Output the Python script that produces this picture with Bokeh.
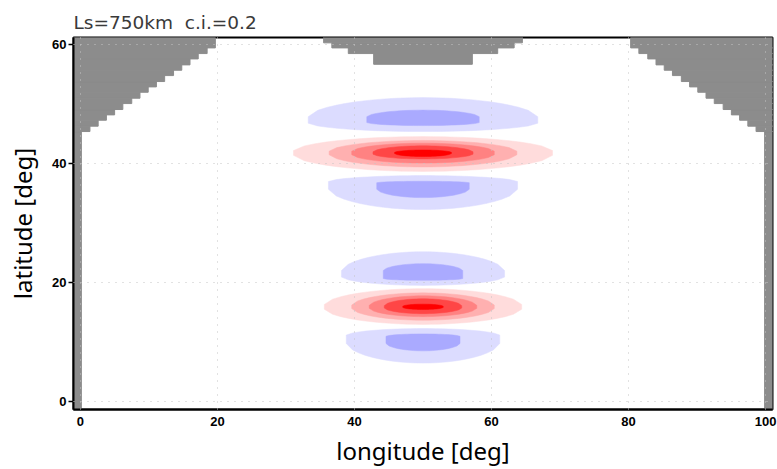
import numpy as np
from bokeh.plotting import figure
from bokeh.models import Range1d, FixedTicker
from bokeh.embed import file_html
from bokeh.resources import INLINE

# ---------------- axes ----------------
x_ticks = [0, 20, 40, 60, 80, 100]
y_ticks = [0, 20, 40, 60]
x_lim = (-1.0, 101.0)
y_lim = (-1.3, 61.2)
title_text = "Ls=750km\u00a0\u00a0c.i.=0.2"

# ---------------- land / outside-domain mask (gray staircase) ----------------
# west staircase rows: lat bottom, lat top, eastern edge of gray (deg lon)
west_row_bottom = [-1.3, 45.4, 46.3, 47.3, 48.2, 49.1, 50.1, 51.0, 52.0, 52.9,
                   53.8, 54.8, 55.7, 56.6, 57.6, 58.5, 59.45]
west_row_top = [45.4, 46.3, 47.3, 48.2, 49.1, 50.1, 51.0, 52.0, 52.9, 53.8,
                54.8, 55.7, 56.6, 57.6, 58.5, 59.45, 61.2]
west_row_edge = [0.15, 1.4, 2.6, 3.8, 5.0, 6.2, 7.5, 8.7, 9.9, 11.1,
                 12.3, 13.6, 14.8, 16.0, 17.2, 18.5, 19.7]
# east staircase rows: western edge of gray (deg lon)
east_row_edge = [99.85, 98.6, 97.4, 96.2, 95.0, 93.8, 92.5, 91.3, 90.1, 88.9,
                 87.7, 86.4, 85.2, 84.0, 82.8, 81.5, 80.3]
# northern central block
center_row_bottom = [60.3, 59.45, 58.5, 56.7]
center_row_top = [61.2, 60.3, 59.45, 58.5]
center_row_west = [35.5, 36.7, 39.1, 42.8]
center_row_east = [64.5, 63.3, 60.9, 57.2]

# ---------------- shaded contour bands (c.i. = 0.2) ----------------
band_level = [-0.2, -0.4,
              0.2, 0.4, 0.6, 0.8, 1.0,
              -0.2, -0.4,
              -0.2, -0.4,
              0.2, 0.4, 0.6, 0.8, 1.0,
              -0.2, -0.4]
band_lon = [50.0] * 18
band_half_width = [16.75, 8.2,
                   18.9, 13.7, 10.4, 7.3, 4.15,
                   13.8, 6.75,
                   11.9, 5.8,
                   14.4, 10.4, 7.85, 5.65, 2.95,
                   11.2, 5.4]
band_top = [51.1, 49.0,
            44.55, 43.9, 43.45, 43.0, 42.3,
            38.0, 37.05,
            25.2, 23.2,
            19.0, 18.3, 17.8, 17.3, 16.4,
            12.3, 11.4]
band_tip_top = [47.9, 47.9,
                42.2, 42.1, 42.1, 42.0, 41.9,
                37.0, 36.8,
                22.05, 22.05,
                16.35, 16.25, 16.2, 16.15, 16.05,
                11.2, 11.0]
band_tip_bottom = [46.8, 46.9,
                   41.4, 41.5, 41.5, 41.6, 41.7,
                   35.7, 35.7,
                   20.95, 20.7,
                   15.55, 15.65, 15.7, 15.75, 15.85,
                   9.8, 9.8]
band_bottom = [45.4, 46.4,
               38.7, 39.45, 40.1, 40.8, 41.2,
               32.3, 34.3,
               19.55, 20.4,
               13.0, 13.7, 14.3, 14.8, 15.5,
               6.5, 8.55]

level_colors = {-0.4: "#aaaaff", -0.2: "#dcdcff",
                0.2: "#ffdcdc", 0.4: "#ffb0b0", 0.6: "#ff8282",
                0.8: "#ff4646", 1.0: "#ff0000"}

mask_color = "#8c8c8c"


def lens(xc, hw, top, tt, tb, bottom, n=25, q=0.6):
    u = np.linspace(-1.0, 1.0, n)
    w = (1.0 - u ** 2) ** q
    xs_top = xc + u * hw
    ys_top = tt + (top - tt) * w
    xs_bot = (xc + u * hw)[::-1]
    ys_bot = (tb - (tb - bottom) * w)[::-1]
    return list(np.concatenate([xs_top, xs_bot])), list(np.concatenate([ys_top, ys_bot]))


p = figure(width=777, height=469, output_backend="svg", toolbar_location=None,
           x_range=Range1d(*x_lim), y_range=Range1d(*y_lim),
           min_border_left=73, min_border_right=5, min_border_top=37,
           min_border_bottom=57)
p.background_fill_color = "white"
p.border_fill_color = "white"

# contour bands
xs_all, ys_all, cols = [], [], []
for i in range(len(band_level)):
    xs, ys = lens(band_lon[i], band_half_width[i], band_top[i], band_tip_top[i],
                  band_tip_bottom[i], band_bottom[i])
    xs_all.append(xs)
    ys_all.append(ys)
    cols.append(level_colors[band_level[i]])
p.patches(xs_all, ys_all, fill_color=cols, line_color=cols, line_width=0.5)

# gray mask
p.quad(left=[x_lim[0] - 1] * len(west_row_edge), right=west_row_edge,
       bottom=west_row_bottom, top=west_row_top,
       fill_color=mask_color, line_color=mask_color, line_width=1)
p.quad(left=east_row_edge, right=[x_lim[1] + 1] * len(east_row_edge),
       bottom=west_row_bottom, top=west_row_top,
       fill_color=mask_color, line_color=mask_color, line_width=1)
p.quad(left=center_row_west, right=center_row_east,
       bottom=center_row_bottom,
       top=[t + 1 if t == max(center_row_top) else t for t in center_row_top],
       fill_color=mask_color, line_color=mask_color, line_width=1)

# grid
for g in (p.xgrid, p.ygrid):
    g.level = "overlay"
    g.grid_line_color = "#c4c4c4"
    g.grid_line_dash = "1 6"
    g.grid_line_width = 1
p.xgrid.ticker = FixedTicker(ticks=x_ticks)
p.ygrid.ticker = FixedTicker(ticks=y_ticks)

# axes
p.xaxis.ticker = FixedTicker(ticks=x_ticks)
p.yaxis.ticker = FixedTicker(ticks=y_ticks)
p.xaxis.axis_label = "longitude [deg]"
p.yaxis.axis_label = "latitude [deg]"
for ax in (p.xaxis[0], p.yaxis[0]):
    ax.axis_line_width = 2
    ax.axis_line_color = "black"
    ax.minor_tick_line_color = None
    ax.major_tick_line_color = "black"
    ax.major_tick_line_width = 1.5
    ax.major_label_text_font = "Liberation Sans"
    ax.major_label_text_font_style = "bold"
    ax.major_label_text_font_size = "13px"
    ax.major_label_text_color = "black"
    ax.axis_label_text_font = "Noto Sans"
    ax.axis_label_text_font_style = "normal"
    ax.axis_label_text_font_size = "24px"
    ax.axis_label_text_color = "black"
p.xaxis.major_tick_out = 0
p.xaxis.major_tick_in = 0
p.xaxis.major_label_standoff = 7
p.xaxis.axis_label_standoff = 5
p.yaxis.major_tick_out = 5
p.yaxis.major_tick_in = 0
p.yaxis.major_label_standoff = 2
p.yaxis.axis_label_standoff = 10

p.outline_line_color = "black"
p.outline_line_width = 2
p.outline_line_alpha = 1

p.title.text = title_text
p.title.text_font = "DejaVu Sans"
p.title.text_font_style = "normal"
p.title.text_font_size = "18.5px"
p.title.text_color = "#3a3a3a"
p.title.align = "left"

open("out.html", "w").write(file_html(p, INLINE))
